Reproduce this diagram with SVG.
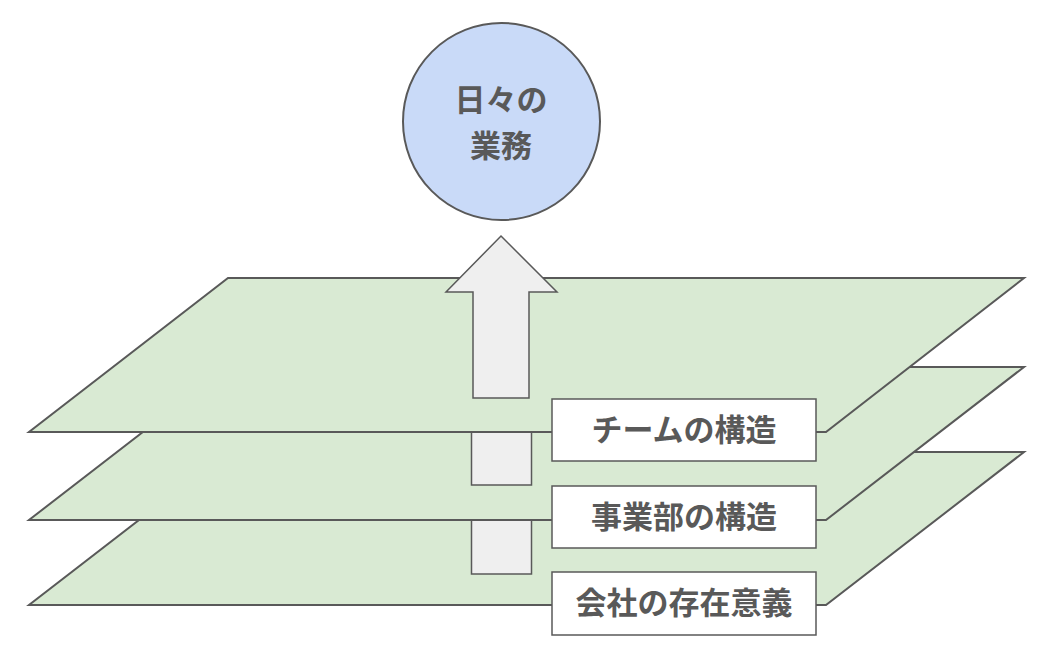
<svg xmlns="http://www.w3.org/2000/svg" width="1058" height="653" viewBox="0 0 1058 653">
<style>
.plane{fill:#d9ead3;stroke:#595959;stroke-width:2;stroke-linejoin:miter}
.shaft{fill:#efefef;stroke:#595959;stroke-width:1.5}
.box{fill:#ffffff;stroke:#595959;stroke-width:1.5}
.lbl{font-family:"Noto Sans CJK JP","Noto Sans CJK SC",sans-serif;font-weight:bold;fill:#595959;text-anchor:middle}
</style>
<rect width="1058" height="653" fill="#ffffff"/>
<g id="layer-bottom">
<polygon class="plane" points="227,452 1024,452 826,605 29,605"/>
</g>
<g id="connectors">
<rect class="shaft" x="471.5" y="520" width="60" height="54"/>
</g>
<g id="layer-middle">
<polygon class="plane" points="227,367 1024,367 826,520 29,520"/>
</g>
<g id="connectors-mid">
<rect class="shaft" x="471.5" y="432" width="60" height="53"/>
</g>
<g id="layer-top">
<polygon class="plane" points="228,278 1024,278 826,432 29,432"/>
</g>
<g id="arrow">
<polygon class="shaft" points="501,236 557,292 529,292 529,398 473,398 473,292 446,292"/>
</g>
<g id="daily-work">
<circle cx="501.5" cy="121.5" r="98.5" fill="#c9daf8" stroke="#595959" stroke-width="2"/>
<text class="lbl" x="501" y="111" font-size="31">日々の</text>
<text class="lbl" x="501" y="156.5" font-size="31">業務</text>
</g>
<g id="label-team">
<rect class="box" x="552" y="399" width="264" height="62"/>
<text class="lbl" x="684" y="441" font-size="31">チームの構造</text>
</g>
<g id="label-division">
<rect class="box" x="552" y="486" width="264" height="62"/>
<text class="lbl" x="684" y="528" font-size="31">事業部の構造</text>
</g>
<g id="label-company">
<rect class="box" x="552" y="572" width="264" height="63"/>
<text class="lbl" x="684" y="614" font-size="31">会社の存在意義</text>
</g>
</svg>
